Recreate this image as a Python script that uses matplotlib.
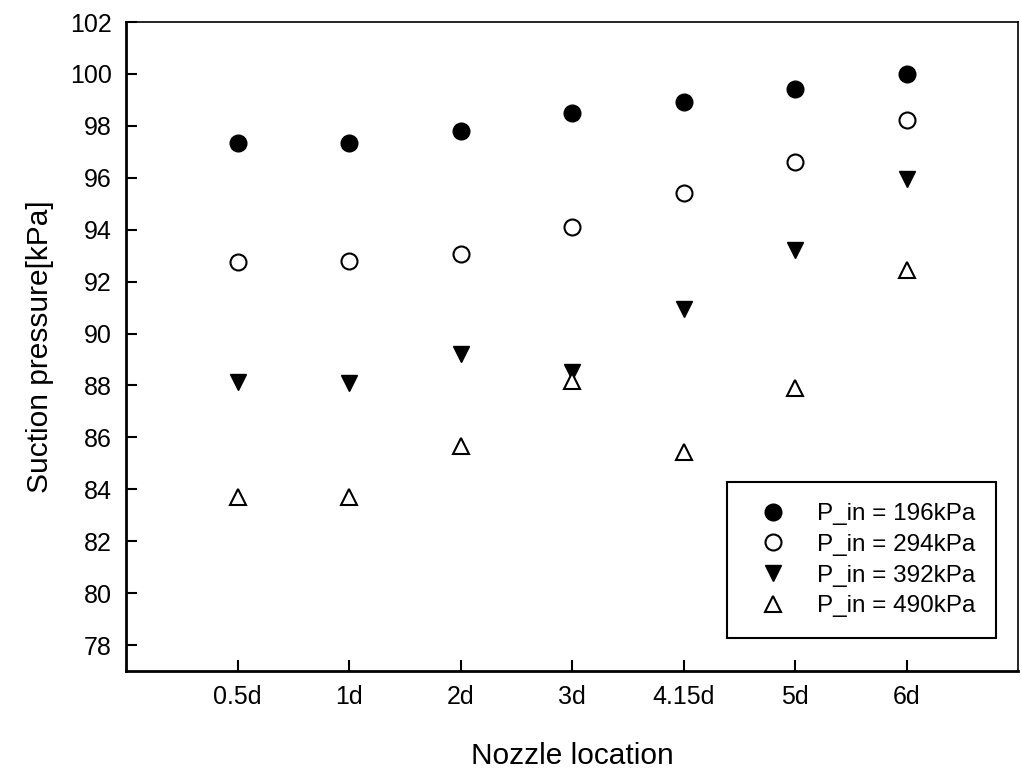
import matplotlib
matplotlib.use("Agg")
import matplotlib.pyplot as plt

plt.rcParams['font.family'] = ['Liberation Sans', 'DejaVu Sans']

# Data
locations = ["0.5d", "1d", "2d", "3d", "4.15d", "5d", "6d"]
p196 = [97.35, 97.35, 97.81, 98.5, 98.93, 99.42, 100.0]
p294 = [92.77, 92.8, 93.08, 94.1, 95.43, 96.62, 98.24]
p392 = [88.13, 88.1, 89.23, 88.52, 90.93, 93.2, 95.96]
p490 = [83.7, 83.7, 85.68, 88.18, 85.42, 87.9, 92.44]
series_labels = ["P_in = 196kPa", "P_in = 294kPa", "P_in = 392kPa", "P_in = 490kPa"]
y_ticks = list(range(78, 103, 2))

fig = plt.figure(figsize=(10.22, 7.75), dpi=100)
ax = fig.add_axes([0.1233, 0.1342, 0.8728, 0.8374])

x = list(range(1, len(locations) + 1))
ax.plot(x, p196, 'o', ms=12, mfc='black', mec='black', ls='none', label=series_labels[0])
ax.plot(x, p294, 'o', ms=11.5, mfc='white', mec='black', mew=1.5, ls='none', label=series_labels[1])
ax.plot(x, p392, 'v', ms=12, mfc='black', mec='black', ls='none', label=series_labels[2])
ax.plot(x, p490, '^', ms=11.5, mfc='white', mec='black', mew=1.5, ls='none', label=series_labels[3])

ax.set_xlim(0, 8)
ax.set_ylim(77, 102)
ax.set_xticks(x)
ax.set_xticklabels(locations)
ax.set_yticks(y_ticks)

ax.tick_params(direction='in', length=8, width=1.5, labelsize=18, top=False, right=False, pad=10)
for side in ['left', 'bottom']:
    ax.spines[side].set_linewidth(2)
for side in ['top', 'right']:
    ax.spines[side].set_linewidth(1.2)

ax.set_xlabel("Nozzle location", fontsize=21.5, labelpad=24)
ax.set_ylabel("Suction pressure[kPa]", fontsize=21.5, labelpad=12)

leg = ax.legend(loc='lower left', bbox_to_anchor=(0.674, 0.0508), borderaxespad=0,
                fontsize=17.5, frameon=True, fancybox=False, framealpha=1,
                edgecolor='black', borderpad=0.85, handlelength=2.1,
                handletextpad=0.75, labelspacing=0.36)
leg.get_frame().set_linewidth(1.5)

plt.savefig('out.png', dpi=100)
